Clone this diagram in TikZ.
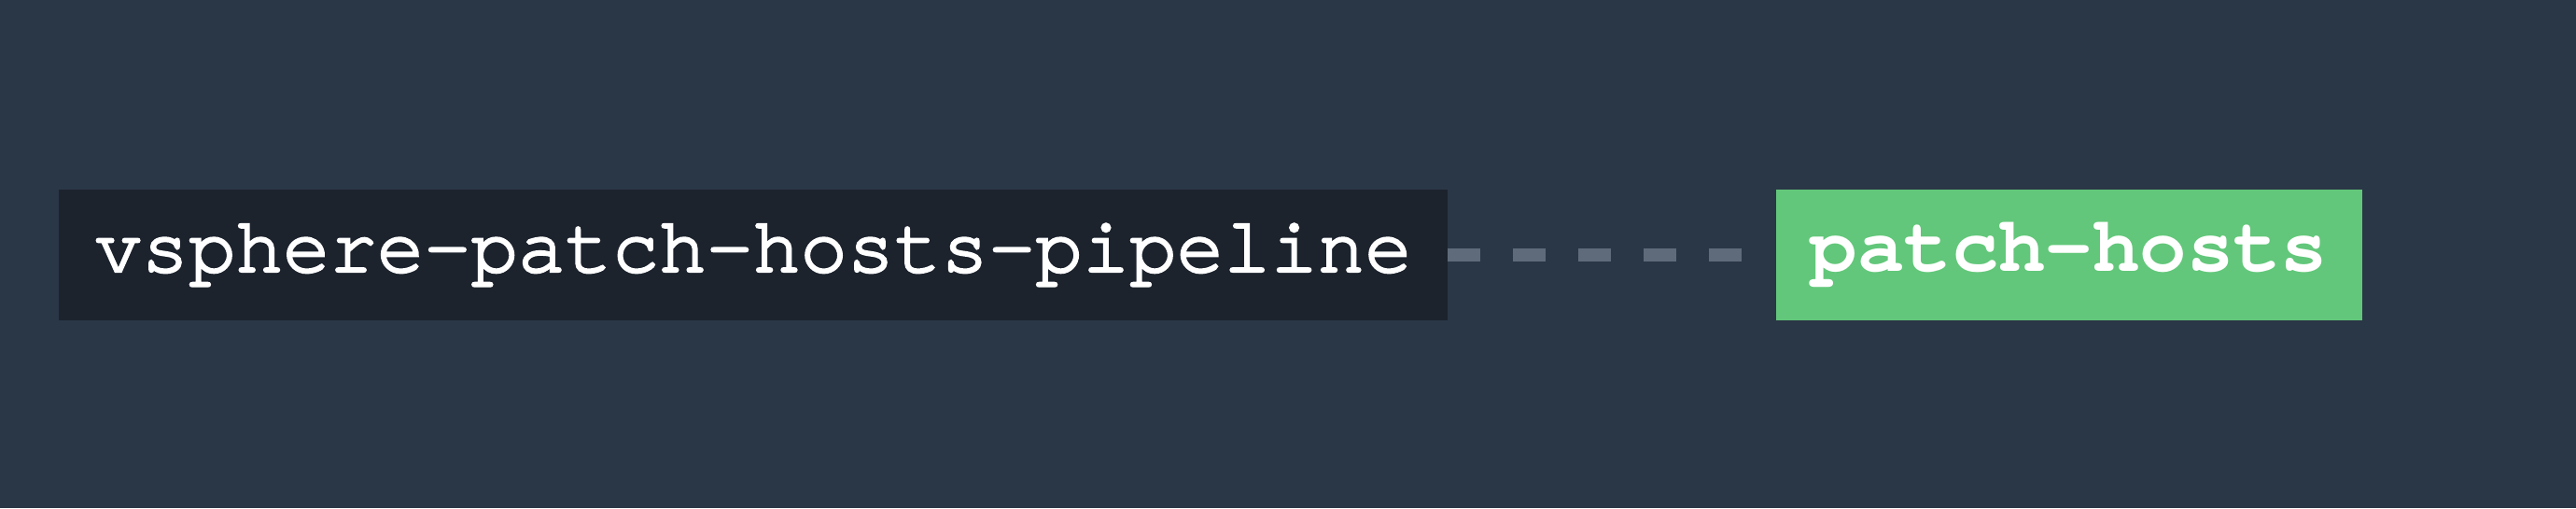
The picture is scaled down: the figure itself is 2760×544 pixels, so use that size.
\documentclass[tikz,border=0pt]{standalone}
\usepackage{fontspec}
\setmonofont{texgyrecursor-regular.otf}[BoldFont=texgyrecursor-bold.otf]
\newfontfamily\pipefont{texgyrecursor-regular.otf}[FakeBold=3]
\definecolor{bgcol}{HTML}{2A3746}
\definecolor{jobcol}{HTML}{1C232D}
\definecolor{okcol}{HTML}{62C77A}
\definecolor{dashcol}{HTML}{5F6B7A}
\begin{document}
\begin{tikzpicture}[x=1pt,y=1pt,
  boxbase/.style={inner sep=0pt, outer sep=0pt, minimum height=140pt, text=white},
  pipebox/.style={boxbase, fill=jobcol, minimum width=1488pt,
    font=\pipefont\fontsize{84}{84}\selectfont},
  jobbox/.style={boxbase, fill=okcol, minimum width=628pt,
    font=\ttfamily\bfseries\fontsize{84}{84}\selectfont},
  link/.style={draw=dashcol, line width=14pt, dash pattern=on 35pt off 35pt, shorten >=2pt}]
\fill[bgcol] (0,0) rectangle (2760,544);
\useasboundingbox (0,0) rectangle (2760,544);
\node[pipebox] (pipe) at (807,271) {vsphere-patch-hosts-pipeline};
\node[jobbox] (job) at (2217,271) {patch-hosts};
\draw[link] (pipe.east) -- (job.west);
\end{tikzpicture}
\end{document}
